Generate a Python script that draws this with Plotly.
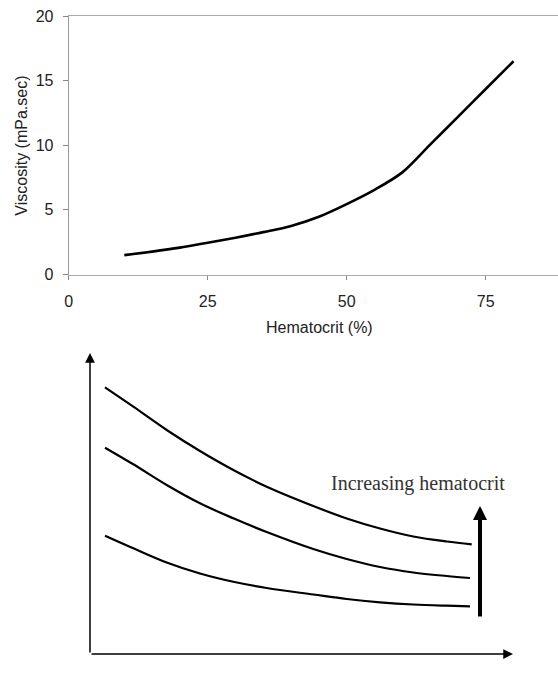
import plotly.graph_objects as go

# ---- Top chart data: viscosity vs hematocrit ----
hematocrit = [10, 15, 20, 25, 30, 35, 40, 45, 50, 55, 60, 65, 70, 75, 80]
viscosity = [1.5, 1.77, 2.08, 2.46, 2.85, 3.28, 3.76, 4.47, 5.45, 6.55, 7.9, 10.05, 12.2, 14.35, 16.5]
x_ticks = [0, 25, 50, 75]
y_ticks = [0, 5, 10, 15, 20]

# ---- Bottom schematic: viscosity vs shear rate (arbitrary units) ----
shear_high = [0.355, 1.024, 1.813, 2.600, 3.388, 4.177, 5.279, 6.069, 6.856, 7.643, 8.433, 9.024]
visc_high = [8.86, 8.216, 7.442, 6.744, 6.113, 5.558, 4.917, 4.502, 4.169, 3.904, 3.738, 3.645]
shear_mid = [0.355, 1.024, 1.813, 2.600, 3.388, 4.177, 5.279, 6.069, 6.856, 7.643, 8.433, 8.983]
visc_mid = [6.854, 6.302, 5.615, 5.007, 4.508, 4.053, 3.488, 3.156, 2.890, 2.708, 2.591, 2.525]
shear_low = [0.355, 1.024, 1.813, 2.600, 3.388, 4.177, 5.279, 6.069, 6.856, 7.643, 8.433, 8.983]
visc_low = [3.930, 3.512, 3.040, 2.674, 2.399, 2.193, 1.977, 1.827, 1.718, 1.645, 1.605, 1.585]
hct_arrow_x = 9.22
hct_arrow_y = [1.2, 4.92]

SANS = "Liberation Sans, Arial, sans-serif"
SERIF = "Liberation Serif, Times New Roman, serif"

fig = go.Figure()

fig.add_trace(go.Scatter(x=hematocrit, y=viscosity, mode="lines",
                         line=dict(color="black", width=2.6, shape="spline", smoothing=0.9),
                         xaxis="x", yaxis="y", showlegend=False, hoverinfo="skip"))

for sx, sy in [(shear_high, visc_high), (shear_mid, visc_mid), (shear_low, visc_low)]:
    fig.add_trace(go.Scatter(x=sx, y=sy, mode="lines",
                             line=dict(color="black", width=2.2, shape="spline", smoothing=1),
                             xaxis="x2", yaxis="y2", showlegend=False, hoverinfo="skip"))

W, H = 558, 684

fig.update_layout(
    width=W, height=H,
    margin=dict(l=0, r=0, t=0, b=0),
    paper_bgcolor="white", plot_bgcolor="white",
    font=dict(family=SANS, size=16, color="#222"),
    xaxis=dict(domain=[68.7 / W, 1], range=[0, 88], tickvals=x_ticks,
               showgrid=False, zeroline=False, showline=True, linecolor="#aaa",
               linewidth=1, mirror=True, ticks="outside", ticklen=4, tickcolor="#888",
               ticklabelstandoff=8, anchor="y", automargin=False),
    yaxis=dict(domain=[1 - 274.5 / H, 1 - 16 / H], range=[0, 20], tickvals=y_ticks,
               showgrid=False, zeroline=False, showline=True, linecolor="#999",
               linewidth=1, ticks="outside", ticklen=5, tickcolor="#888",
               ticklabelstandoff=6, anchor="x", automargin=False),
    xaxis2=dict(domain=[90 / W, 513 / W], range=[0, 10], visible=False, anchor="y2",
                automargin=False),
    yaxis2=dict(domain=[1 - 654 / H, 1 - 353 / H], range=[0, 10], visible=False, anchor="x2",
                automargin=False),
)

annotations = [
    # top chart axis titles
    dict(text="Viscosity (mPa.sec)", xref="paper", yref="paper", x=21.7 / W, y=1 - 146 / H,
         showarrow=False, textangle=-90, font=dict(family=SANS, size=16, color="#222"),
         xanchor="center", yanchor="middle"),
    dict(text="Hematocrit (%)", xref="paper", yref="paper", x=319 / W, y=1 - 327 / H,
         showarrow=False, font=dict(family=SANS, size=16, color="#222"),
         xanchor="center", yanchor="middle"),
    # schematic axes arrows
    dict(x=10, y=0, ax=0, ay=0, xref="x2", yref="y2", axref="x2", ayref="y2", text="",
         showarrow=True, arrowhead=2, arrowsize=1.3, arrowwidth=1.5, arrowcolor="black"),
    dict(x=0, y=10, ax=0, ay=0, xref="x2", yref="y2", axref="x2", ayref="y2", text="",
         showarrow=True, arrowhead=2, arrowsize=1.3, arrowwidth=1.5, arrowcolor="black"),
    # increasing hematocrit arrow
    dict(x=hct_arrow_x, y=hct_arrow_y[1], ax=hct_arrow_x, ay=hct_arrow_y[0],
         xref="x2", yref="y2", axref="x2", ayref="y2", text="",
         showarrow=True, arrowhead=2, arrowsize=0.7, arrowwidth=4, arrowcolor="black"),
    dict(text="Increasing hematocrit", xref="x2", yref="y2", x=7.75, y=5.68,
         showarrow=False, font=dict(family=SERIF, size=20, color="#333"),
         xanchor="center", yanchor="middle"),
    dict(text="Viscosity", xref="x2", yref="y2", x=-0.355, y=4.62, textangle=-90,
         showarrow=False, font=dict(family=SERIF, size=20, color="#333"),
         xanchor="center", yanchor="middle"),
    dict(text="Shear Rate", xref="x2", yref="y2", x=4.96, y=-0.53,
         showarrow=False, font=dict(family=SERIF, size=20, color="#333"),
         xanchor="center", yanchor="middle"),
]
fig.update_layout(annotations=annotations)

fig.write_html("out.html")
